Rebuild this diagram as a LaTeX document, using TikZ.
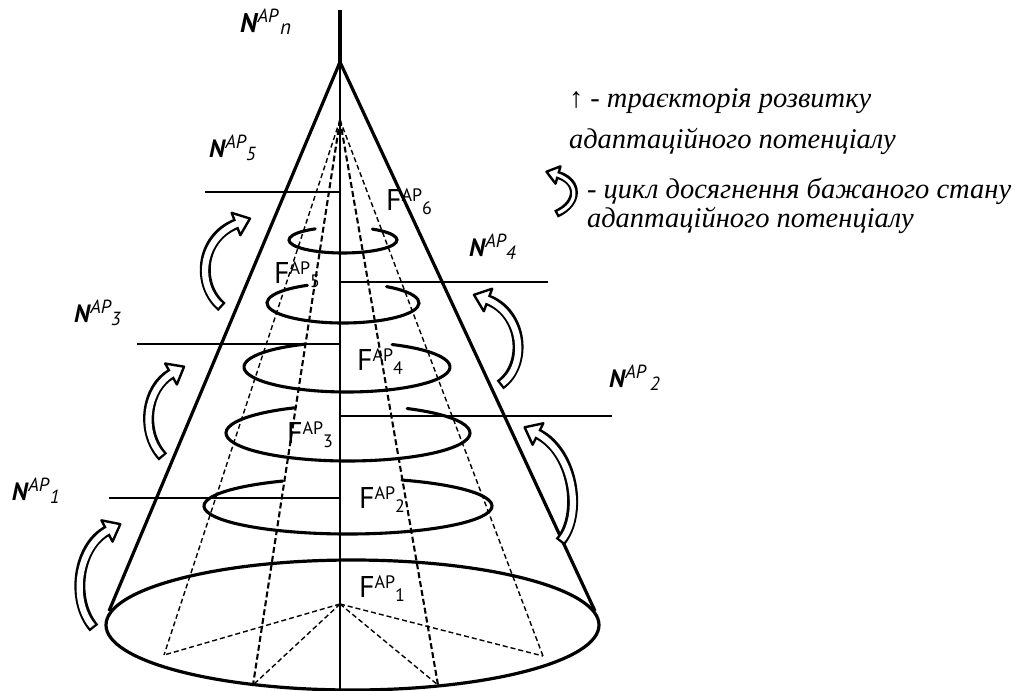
\documentclass[tikz,border=0pt]{standalone}
\usepackage{fontspec}
\setmainfont{Liberation Serif}
\newfontfamily\labfont{PT Sans}
\usetikzlibrary{calc}

\newcommand{\Nlab}[2][0]{{\labfont\bfseries\itshape\fontsize{25}{25}\selectfont N\kern0.5pt}\raisebox{9pt}{\labfont\itshape\fontsize{19}{19}\selectfont AP}\kern#1pt\raisebox{-3pt}{\labfont\itshape\fontsize{19}{19}\selectfont #2}}
\newcommand{\Flab}[1]{{\labfont\fontsize{30}{30}\selectfont F}\raisebox{9pt}{\labfont\fontsize{18}{18}\selectfont AP}\raisebox{-4pt}{\labfont\fontsize{18}{18}\selectfont #1}}

% hollow curved arrow: start, c1, c2, end, outer width, head half width, head length
\newcommand{\curvarr}[7]{%
  \draw[line width=#5pt] #1 .. controls #2 and #3 .. #4;
  \draw[line width=2.4pt, fill=white, line join=round] ($#4!#6pt!90:#3$) -- ($#4!-#7pt!#3$) -- ($#4!#6pt!-90:#3$) -- cycle;
  \draw[white, line width=#5pt-4.8pt, shorten <=2.4pt, shorten >=-2.5pt] #1 .. controls #2 and #3 .. #4;
}
% open ring: centre, rx, ry, start angle, end angle
\newcommand{\ringarc}[5]{%
  \draw[ringline] ($#1+(#4:#2 and #3)$) arc[start angle=#4, end angle=#5, x radius=#2, y radius=#3];
}

\begin{document}
\begin{tikzpicture}[x=1pt,y=-1pt,
  thinline/.style={line width=1.4pt},
  thickline/.style={line width=3.2pt},
  ringline/.style={line width=3.1pt, line cap=round},
  dashline/.style={line width=1.4pt, dash pattern=on 5pt off 3pt},
  dashbold/.style={line width=2.1pt, dash pattern=on 6pt off 3pt},
  lab/.style={inner sep=0pt, outer sep=0pt, anchor=base west},
  legend/.style={inner sep=0pt, outer sep=0pt, anchor=base west, font=\itshape\fontsize{28.5}{28.5}\selectfont}]
\useasboundingbox (0,0) rectangle (1026,691);

% key points
\coordinate (top) at (340,10);
\coordinate (apex) at (340,62);
\coordinate (bot) at (340,691);
\coordinate (bl) at (109,611);
\coordinate (br) at (595,611);
\coordinate (dtop) at (340,120);
\coordinate (star) at (340,604);
\coordinate (p1) at (164,655);
\coordinate (p2) at (253,685);
\coordinate (p3) at (438,685);
\coordinate (p4) at (543,656);

% base ellipse
\draw[thickline] (352.5,625) ellipse [x radius=246.5, y radius=65];

% dashed pyramid
\draw[dashline] (dtop) -- (p1);
\draw[dashbold] (dtop) -- (p2);
\draw[dashbold] (dtop) -- (p3);
\draw[dashline] (dtop) -- (p4);
\draw[dashline] (star) -- (p1);
\draw[dashline] (star) -- (p2);
\draw[dashline] (star) -- (p3);
\draw[dashline] (star) -- (p4);

% axis and cone
\draw[thickline] (top) -- (apex);
\draw[thinline] (apex) -- (bot);
\draw[thickline, line join=miter] (bl) -- (apex) -- (br);

% level lines
\coordinate (n5a) at (205,192); \coordinate (n5b) at (340,192);
\coordinate (n4a) at (340,282); \coordinate (n4b) at (548,282);
\coordinate (n3a) at (137,344); \coordinate (n3b) at (340,344);
\coordinate (n2a) at (340,416); \coordinate (n2b) at (612,416);
\coordinate (n1a) at (109,498); \coordinate (n1b) at (340,498);
\draw[thinline] (n5a) -- (n5b);
\draw[thinline] (n4a) -- (n4b);
\draw[thinline] (n3a) -- (n3b);
\draw[thinline] (n2a) -- (n2b);
\draw[thinline] (n1a) -- (n1b);

% rings
\ringarc{(348,506)}{144}{28}{-68}{243}
\ringarc{(348,433)}{122}{28}{-61}{244}
\ringarc{(347,367)}{103}{25}{-64}{246}
\ringarc{(343,303)}{76}{20}{-55}{242}
\ringarc{(343,240)}{54}{13}{-57}{239}

% curved hollow arrows
\curvarr{(222,307)}{(196,285)}{(200,238)}{(236,224)}{11}{12}{15}
\curvarr{(163,457)}{(140,432)}{(146,388)}{(171,374)}{11}{12}{15}
\curvarr{(94,628)}{(70,600)}{(78,546)}{(107,531)}{11}{12}{15}
\curvarr{(500,385)}{(528,365)}{(523,313)}{(488,300)}{11}{12}{15}
\curvarr{(560,542)}{(583,515)}{(574,452)}{(538,434)}{11}{12}{15}
\curvarr{(556,214)}{(580,203)}{(579,181)}{(558,175)}{8}{9}{12}

% N labels
\node[lab] (Nn) at (240,32) {{\labfont\bfseries\itshape\fontsize{27}{27}\selectfont N\kern0.5pt}\raisebox{10pt}{\labfont\itshape\fontsize{19}{19}\selectfont AP}\kern2pt\raisebox{-2pt}{\labfont\itshape\fontsize{21}{21}\selectfont n}};
\node[lab] (N5) at (209,157) {\Nlab{5}};
\node[lab] (N4) at (469,256) {\Nlab{4}};
\node[lab] (N3) at (74,322) {\Nlab{3}};
\node[lab] (N2) at (609,387) {\Nlab[4]{2}};
\node[lab] (N1) at (12,500) {\Nlab[1]{1}};

% F labels
\node[lab] (F6) at (386,210) {\Flab{6}};
\node[lab] (F5) at (274,283) {\Flab{5}};
\node[lab] (F4) at (357,370) {\Flab{4}};
\node[lab] (F3) at (287,443) {\Flab{3}};
\node[lab] (F2) at (359,508) {\Flab{2}};
\node[lab] (F1) at (359,597) {\Flab{1}};

% legend
\node[legend] (L1) at (569,107) {↑ - траєкторія розвитку};
\node[legend] (L2) at (569,148) {адаптаційного потенціалу};
\node[legend] (L3) at (587,198) {- цикл досягнення бажаного стану};
\node[legend] (L4) at (587,227) {адаптаційного потенціалу};
\end{tikzpicture}
\end{document}
